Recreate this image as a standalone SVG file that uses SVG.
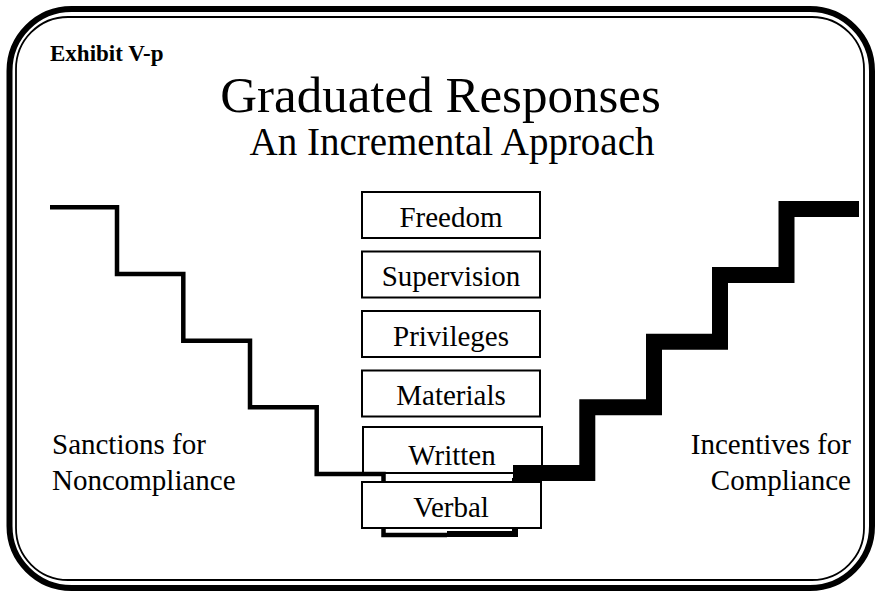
<svg xmlns="http://www.w3.org/2000/svg" width="883" height="592" viewBox="0 0 883 592" font-family="'Liberation Serif', 'DejaVu Serif', serif">
<style>
.t{font-family:'Liberation Serif','DejaVu Serif',serif;fill:#000}
.box{fill:#fff;stroke:#000;stroke-width:2}
.lbl{font-size:29px;text-anchor:middle}
.side{font-size:29px}
.stairL{fill:none;stroke:#000;stroke-width:4.5;stroke-linejoin:miter}
.stairR{fill:none;stroke:#000;stroke-width:16;stroke-linejoin:miter}
</style>
<rect width="883" height="592" fill="#fff"/>
<g id="frame">
<rect x="9.5" y="9" width="862.5" height="579" rx="62" ry="62" fill="none" stroke="#000" stroke-width="6"/>
<rect x="16" y="17" width="848" height="563" rx="52" ry="52" fill="none" stroke="#000" stroke-width="1.8"/>
</g>
<g id="titles">
<text class="t" x="50" y="61" font-size="23" font-weight="bold">Exhibit V-p</text>
<text class="t" x="440.5" y="112" font-size="51" text-anchor="middle">Graduated Responses</text>
<text class="t" x="452" y="155" font-size="39" text-anchor="middle">An Incremental Approach</text>
</g>
<g id="freedom"><rect class="box" x="362" y="192" width="178" height="46"/><text class="t lbl" x="451" y="226.5">Freedom</text></g>
<g id="supervision"><rect class="box" x="362" y="251.5" width="178" height="46"/><text class="t lbl" x="451" y="286">Supervision</text></g>
<g id="privileges"><rect class="box" x="362" y="311" width="178" height="46"/><text class="t lbl" x="451" y="345.5">Privileges</text></g>
<g id="materials"><rect class="box" x="362" y="370.5" width="178" height="46"/><text class="t lbl" x="451" y="405">Materials</text></g>
<g id="written"><rect class="box" x="363" y="427" width="179" height="46"/><text class="t lbl" x="452" y="465">Written</text></g>
<g id="connectors">
<path class="stairL" d="M50,207.3 H117 V274 H183.3 V340.7 H250 V407.3 H316.7 V474 H383.5 V535 H447"/>
<path class="stairR" d="M859,209 H786.5 V275 H720 V341.7 H654 V407.3 H587.3 V473 H513"/>
<path d="M515,478 V534 H447" fill="none" stroke="#000" stroke-width="6"/>
</g>
<g id="verbal"><rect class="box" x="362" y="482" width="179" height="46"/><text class="t lbl" x="451" y="516.5">Verbal</text></g>
<g id="sanctions"><text class="t side" x="52" y="454">Sanctions for</text><text class="t side" x="52" y="490">Noncompliance</text></g>
<g id="incentives"><text class="t side" x="851" y="454" text-anchor="end">Incentives for</text><text class="t side" x="851" y="490" text-anchor="end">Compliance</text></g>
</svg>
